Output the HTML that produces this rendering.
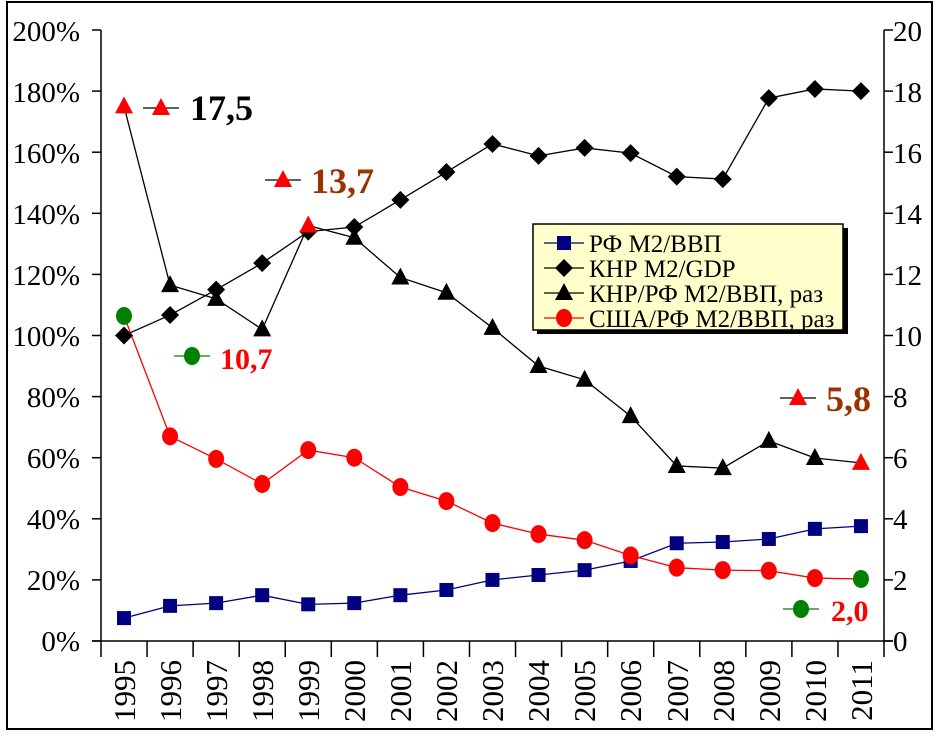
<!DOCTYPE html>
<html><head><meta charset="utf-8"><style>
html,body{margin:0;padding:0;background:#fff}
svg, svg text{font-family:"Liberation Serif","Times New Roman",serif}
</style></head><body>
<svg id="s" width="939" height="732" viewBox="0 0 939 732" xmlns="http://www.w3.org/2000/svg" font-family="Liberation Serif, serif">
<rect x="7" y="2" width="925" height="727" fill="#fff" stroke="#000" stroke-width="2"/>
<g id="axes" stroke="#000" stroke-width="1.5" fill="none"></g>
<g font-size="29" text-anchor="end">
<text x="80" y="651">0%</text><text x="80" y="590">20%</text><text x="80" y="529">40%</text><text x="80" y="468">60%</text><text x="80" y="407">80%</text><text x="80" y="346">100%</text><text x="80" y="285">120%</text><text x="80" y="224">140%</text><text x="80" y="163">160%</text><text x="80" y="102">180%</text><text x="80" y="41">200%</text>
</g>
<g font-size="29" text-anchor="start">
<text x="893" y="651">0</text><text x="893" y="590">2</text><text x="893" y="529">4</text><text x="893" y="468">6</text><text x="893" y="407">8</text><text x="893" y="346">10</text><text x="893" y="285">12</text><text x="893" y="224">14</text><text x="893" y="163">16</text><text x="893" y="102">18</text><text x="893" y="41">20</text>
</g>
<g font-size="31" text-anchor="end">
<text transform="translate(135,660) rotate(-90)">1995</text>
<text transform="translate(181,660) rotate(-90)">1996</text>
<text transform="translate(227,660) rotate(-90)">1997</text>
<text transform="translate(273,660) rotate(-90)">1998</text>
<text transform="translate(319,660) rotate(-90)">1999</text>
<text transform="translate(365,660) rotate(-90)">2000</text>
<text transform="translate(411,660) rotate(-90)">2001</text>
<text transform="translate(457,660) rotate(-90)">2002</text>
<text transform="translate(503,660) rotate(-90)">2003</text>
<text transform="translate(549,660) rotate(-90)">2004</text>
<text transform="translate(595,660) rotate(-90)">2005</text>
<text transform="translate(641,660) rotate(-90)">2006</text>
<text transform="translate(688,660) rotate(-90)">2007</text>
<text transform="translate(734,660) rotate(-90)">2008</text>
<text transform="translate(780,660) rotate(-90)">2009</text>
<text transform="translate(826,660) rotate(-90)">2010</text>
<text transform="translate(872,660) rotate(-90)">2011</text>
</g>
<g id="series"></g>
<g id="ann"></g>
<g font-weight="bold" font-size="36">
<text x="190" y="120" fill="#000">17,5</text>
<text x="311" y="193" fill="#993300">13,7</text>
<text x="220" y="369" fill="#ff0000" font-size="30">10,7</text>
<text x="826" y="411" fill="#993300">5,8</text>
<text x="831" y="621" fill="#ff0000" font-size="30">2,0</text>
</g>
<rect x="537" y="228" width="311" height="106" fill="#000"/>
<rect x="533" y="224" width="310" height="106" fill="#ffffcc" stroke="#000" stroke-width="1.5"/>
<g id="leg"></g>
<g font-size="25">
<text x="589" y="252">РФ М2/ВВП</text>
<text x="589" y="277">КНР М2/GDP</text>
<text x="589" y="302">КНР/РФ М2/ВВП, раз</text>
<text x="589" y="327">США/РФ М2/ВВП, раз</text>
</g>
</svg>
<script>
const NS="http://www.w3.org/2000/svg";
function el(p,t,a){const e=document.createElementNS(NS,t);for(const k in a)e.setAttribute(k,a[k]);p.appendChild(e);return e;}
const X=i=>124+46.06*i, Y=v=>641-v*3.055, Y2=v=>641-v*30.55;
const ax=document.getElementById('axes');
el(ax,'line',{x1:101,y1:30,x2:101,y2:641});
el(ax,'line',{x1:884,y1:30,x2:884,y2:641});
el(ax,'line',{x1:92,y1:641,x2:893,y2:641});
for(let k=0;k<=10;k++){const y=641-k*61.1;el(ax,'line',{x1:92,y1:y,x2:101,y2:y});el(ax,'line',{x1:884,y1:y,x2:893,y2:y});}
for(let k=0;k<=17;k++){const x=101+46.06*k;el(ax,'line',{x1:x,y1:641,x2:x,y2:657});}
const rf=[7.5,11.5,12.4,15,12,12.4,15,16.7,20,21.6,23.2,26.2,32,32.4,33.4,36.7,37.6];
const cn=[100,106.7,115,123.7,134,135.5,144.4,153.5,162.7,158.8,161.4,159.7,152,151.2,177.7,180.7,180];
const rt=[17.5,11.65,11.2,10.2,13.6,13.2,11.9,11.4,10.25,9.0,8.55,7.36,5.73,5.66,6.55,5.99,5.83];
const us=[10.64,6.7,5.96,5.14,6.25,6.0,5.04,4.58,3.86,3.5,3.3,2.8,2.4,2.32,2.3,2.06,2.03];
const g=document.getElementById('series');
function line(pts,c){el(g,'polyline',{points:pts.map(p=>p.join(',')).join(' '),fill:'none',stroke:c,'stroke-width':1.3});}
function sq(p,x,y,c){el(p,'rect',{x:x-7,y:y-7,width:14,height:14,fill:c});}
function dia(p,x,y,c){el(p,'polygon',{points:`${x},${y-9} ${x+9},${y} ${x},${y+9} ${x-9},${y}`,fill:c});}
function tri(p,x,y,c){el(p,'polygon',{points:`${x},${y-10} ${x+9},${y+7} ${x-9},${y+7}`,fill:c});}
function cir(p,x,y,c){el(p,'ellipse',{cx:x,cy:y,rx:8,ry:9,fill:c});}
const P1=rf.map((v,i)=>[X(i),Y(v)]),P2=cn.map((v,i)=>[X(i),Y(v)]),P3=rt.map((v,i)=>[X(i),Y2(v)]),P4=us.map((v,i)=>[X(i),Y2(v)]);
line(P1,'#000080');line(P2,'#000');line(P3,'#000');line(P4,'#ff0000');
P1.forEach(p=>sq(g,p[0],p[1],'#000080'));
P2.forEach(p=>dia(g,p[0],p[1],'#000'));
P4.forEach((p,i)=>cir(g,p[0],p[1],(i==0||i==16)?'#008000':'#ff0000'));
P3.forEach((p,i)=>tri(g,p[0],p[1],(i==0||i==4||i==16)?'#ff0000':'#000'));
const a=document.getElementById('ann');
function ann(x,y,kind,c,lc){el(a,'line',{x1:x-18,y1:y,x2:x+18,y2:y,stroke:lc,'stroke-width':1.3});kind(a,x,y,c);}
ann(161,108,tri,'#ff0000','#000');ann(283,180,tri,'#ff0000','#000');
ann(192,356,cir,'#008000','#008000');ann(798,398,tri,'#ff0000','#000');
ann(801,609,cir,'#008000','#008000');
const L=document.getElementById('leg');
[[sq,'#000080','#000080'],[dia,'#000','#000'],[tri,'#000','#000'],[cir,'#ff0000','#ff0000']].forEach((d,i)=>{const y=243+25*i;el(L,'line',{x1:544,y1:y,x2:584,y2:y,stroke:d[2],'stroke-width':1.3});d[0](L,564,y,d[1]);});
</script>
</body></html>
